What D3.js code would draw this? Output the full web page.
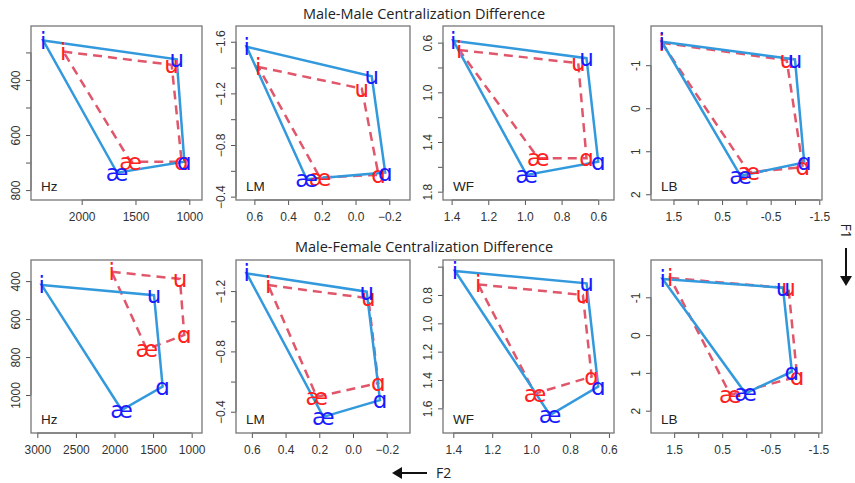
<!DOCTYPE html>
<html><head><meta charset="utf-8">
<script src="https://cdn.jsdelivr.net/npm/d3@7"></script>
<style>body{margin:0;background:#fff}svg{display:block}</style>
</head><body>
<svg id="c" width="855" height="483"></svg>
<script>
// ---- data ----
const vowels = ["i", "u", "ɑ", "æ"];
const unitNames = ["Hz", "LM", "WF", "LB"];
const rowTitles = ["Male-Male Centralization Difference", "Male-Female Centralization Difference"];

// [F2, F1] per vowel (i, u, ɑ, æ)
const mmHzBlue = [[2357, 257], [1117, 325], [1046, 697], [1671, 737]];
const mmHzRed  = [[2171, 297], [1164, 345], [1071, 697], [1546, 697]];
const mmLmBlue = [[0.646, -1.561], [-0.096, -1.333], [-0.176, -0.587], [0.29, -0.535]];
const mmLmRed  = [[0.577, -1.405], [-0.037, -1.237], [-0.136, -0.569], [0.211, -0.547]];
const mmWfBlue = [[1.391, 0.584], [0.664, 0.725], [0.6, 1.558], [0.991, 1.665]];
const mmWfRed  = [[1.359, 0.659], [0.709, 0.766], [0.664, 1.531], [0.927, 1.531]];
const mmLbBlue = [[1.74, -1.545], [-1.0, -1.133], [-1.19, 1.26], [0.12, 1.57]];
const mmLbRed  = [[1.74, -1.52], [-0.83, -1.117], [-1.16, 1.37], [-0.05, 1.49]];

const mfHzBlue = [[2943, 421], [1488, 474], [1376, 956], [1907, 1079]];
const mfHzRed  = [[2036, 351], [1152, 389], [1096, 684], [1583, 759]];
const mfLmBlue = [[0.631, -1.317], [-0.081, -1.196], [-0.16, -0.477], [0.176, -0.366]];
const mfLmRed  = [[0.503, -1.24], [-0.091, -1.152], [-0.15, -0.59], [0.215, -0.499]];
const mfWfBlue = [[1.391, 0.631], [0.715, 0.718], [0.655, 1.447], [0.903, 1.647]];
const mfWfRed  = [[1.272, 0.725], [0.734, 0.8], [0.689, 1.376], [0.98, 1.496]];
const mfLbBlue = [[1.74, -1.484], [-0.764, -1.254], [-0.95, 0.968], [0.016, 1.54]];
const mfLbRed  = [[1.58, -1.51], [-0.88, -1.24], [-1.06, 1.1], [0.33, 1.58]];

// axis domains [F2 left, F2 right], [F1 top, F1 bottom]
const mmDomains = [
  [[2471, 882], [204, 836]],
  [[0.709, -0.323], [-1.722, -0.374]],
  [[1.447, 0.514], [0.466, 1.867]],
  [[1.962, -1.556], [-1.911, 2.133]]
];
const mfDomains = [
  [[3082, 866], [289, 1200]],
  [[0.694, -0.338], [-1.406, -0.259]],
  [[1.453, 0.574], [0.553, 1.774]],
  [[1.982, -1.577], [-1.987, 2.59]]
];

// ticks: [all ticks, labelled ticks]
const mmXTicks = [
  [[2000, 1500, 1000], [2000, 1500, 1000]],
  [[0.6, 0.4, 0.2, 0, -0.2], [0.6, 0.4, 0.2, 0, -0.2]],
  [[1.4, 1.2, 1.0, 0.8, 0.6], [1.4, 1.2, 1.0, 0.8, 0.6]],
  [[1.5, 1, 0.5, 0, -0.5, -1, -1.5], [1.5, 0.5, -0.5, -1.5]]
];
const mmYTicks = [
  [[300, 400, 500, 600, 700, 800], [400, 600, 800]],
  [[-1.6, -1.4, -1.2, -1.0, -0.8, -0.6, -0.4], [-1.6, -1.2, -0.8, -0.4]],
  [[0.6, 0.8, 1.0, 1.2, 1.4, 1.6, 1.8], [0.6, 1.0, 1.4, 1.8]],
  [[-1, 0, 1, 2], [-1, 0, 1, 2]]
];
const mfXTicks = [
  [[3000, 2500, 2000, 1500, 1000], [3000, 2500, 2000, 1500, 1000]],
  [[0.6, 0.4, 0.2, 0, -0.2], [0.6, 0.4, 0.2, 0, -0.2]],
  [[1.4, 1.2, 1.0, 0.8, 0.6], [1.4, 1.2, 1.0, 0.8, 0.6]],
  [[1.5, 1, 0.5, 0, -0.5, -1, -1.5], [1.5, 0.5, -0.5, -1.5]]
];
const mfYTicks = [
  [[400, 600, 800, 1000], [400, 600, 800, 1000]],
  [[-1.2, -1.0, -0.8, -0.6, -0.4], [-1.2, -0.8, -0.4]],
  [[0.6, 0.8, 1.0, 1.2, 1.4, 1.6], [0.8, 1.0, 1.2, 1.4, 1.6]],
  [[-1, 0, 1, 2], [-1, 0, 1, 2]]
];

// ---- layout ----
const colX = [31, 236, 443, 651];
const colW = [171, 174, 171, 171];
const rowY = [26, 260];
const rowH = [174, 173];

const blueLine = "#3399dd", redLine = "#e0566a";
const blueText = "#1a1aff", redText = "#ff2020";
const tickFont = "Liberation Sans, Arial, sans-serif";

const svg = d3.select("#c");

const rows = [
  {blue: [mmHzBlue, mmLmBlue, mmWfBlue, mmLbBlue], red: [mmHzRed, mmLmRed, mmWfRed, mmLbRed],
   dom: mmDomains, xt: mmXTicks, yt: mmYTicks},
  {blue: [mfHzBlue, mfLmBlue, mfWfBlue, mfLbBlue], red: [mfHzRed, mfLmRed, mfWfRed, mfLbRed],
   dom: mfDomains, xt: mfXTicks, yt: mfYTicks}
];

function fmt(v, unit) {
  if (unit === "Hz") return String(v);
  if (unit === "LB") return String(v);
  return d3.format(".1f")(v);
}

rows.forEach((row, r) => {
  svg.append("text").attr("x", 424).attr("y", r === 0 ? 19 : 252)
    .attr("text-anchor", "middle").attr("font-family", "Open Sans, sans-serif")
    .attr("font-size", 14.5).attr("fill", "#222").text(rowTitles[r]);

  for (let c = 0; c < 4; c++) {
    const x0 = colX[c], y0 = rowY[r], w = colW[c], h = rowH[r];
    const g = svg.append("g").attr("transform", `translate(${x0},${y0})`);
    const xs = d3.scaleLinear().domain(row.dom[c][0]).range([0, w]);
    const ys = d3.scaleLinear().domain(row.dom[c][1]).range([0, h]);
    const unit = unitNames[c];

    // x axis
    const [xAll, xLab] = row.xt[c];
    const xa = d3.axisBottom(xs).tickValues(xAll).tickSize(5).tickSizeOuter(0)
      .tickFormat(v => xLab.some(l => Math.abs(l - v) < 1e-9) ? fmt(v, unit) : "");
    const gx = g.append("g").attr("transform", `translate(0,${h})`).call(xa);
    gx.select(".domain").remove();
    gx.append("line").attr("x1", xs(xAll[0])).attr("x2", xs(xAll[xAll.length - 1]))
      .attr("stroke", "#555");
    gx.selectAll(".tick line").attr("stroke", "#555");
    gx.selectAll(".tick text").attr("font-family", tickFont).attr("font-size", 12)
      .attr("fill", "#333").attr("dy", "1.05em");

    // y axis
    const [yAll, yLab] = row.yt[c];
    const ya = d3.axisLeft(ys).tickValues(yAll).tickSize(5).tickSizeOuter(0)
      .tickFormat(v => yLab.some(l => Math.abs(l - v) < 1e-9) ? fmt(v, unit) : "");
    const gy = g.append("g").call(ya);
    gy.select(".domain").remove();
    gy.append("line").attr("y1", ys(yAll[0])).attr("y2", ys(yAll[yAll.length - 1]))
      .attr("stroke", "#555");
    gy.selectAll(".tick line").attr("stroke", "#555");
    gy.selectAll(".tick text").attr("font-family", tickFont).attr("font-size", 12)
      .attr("fill", "#333").attr("x", 0).attr("dy", 0)
      .attr("text-anchor", "middle")
      .attr("transform", "translate(-11,0) rotate(-90)");

    // box
    g.append("rect").attr("width", w).attr("height", h).attr("fill", "none")
      .attr("stroke", "#777").attr("stroke-width", 1.3);

    const line = d3.line().x(d => xs(d[0])).y(d => ys(d[1])).curve(d3.curveLinearClosed);

    // red dashed
    g.append("path").datum(row.red[c]).attr("d", line).attr("fill", "none")
      .attr("stroke", redLine).attr("stroke-width", 2.5).attr("stroke-dasharray", "9,6");
    // blue solid
    g.append("path").datum(row.blue[c]).attr("d", line).attr("fill", "none")
      .attr("stroke", blueLine).attr("stroke-width", 2.5);

    // labels
    g.selectAll(".lr").data(row.red[c]).join("text")
      .attr("x", d => xs(d[0])).attr("y", d => ys(d[1]))
      .attr("dy", "0.35em").attr("text-anchor", "middle")
      .attr("font-family", "DejaVu Sans, sans-serif").attr("font-size", 23)
      .attr("fill", redText).text((d, i) => vowels[i]);
    g.selectAll(".lb").data(row.blue[c]).join("text")
      .attr("x", d => xs(d[0])).attr("y", d => ys(d[1]))
      .attr("dy", "0.35em").attr("text-anchor", "middle")
      .attr("font-family", "DejaVu Sans, sans-serif").attr("font-size", 23)
      .attr("fill", blueText).text((d, i) => vowels[i]);

    // unit label
    g.append("text").attr("x", 10).attr("y", h - 9)
      .attr("font-family", tickFont).attr("font-size", 13.5).attr("fill", "#222").text(unit);
  }
});

// F1 arrow
svg.append("text").attr("transform", "translate(846,231) rotate(90)")
  .attr("text-anchor", "middle").attr("dy", "0.35em")
  .attr("font-family", "Open Sans, sans-serif").attr("font-size", 14).attr("fill", "#222").text("F1");
svg.append("line").attr("x1", 846).attr("y1", 248).attr("x2", 846).attr("y2", 278)
  .attr("stroke", "#111").attr("stroke-width", 2);
svg.append("path").attr("d", "M840,276 L852,276 L846,286 Z").attr("fill", "#111");

// F2 arrow
svg.append("text").attr("x", 436).attr("y", 473).attr("dy", "0.35em")
  .attr("font-family", "Open Sans, sans-serif").attr("font-size", 14).attr("fill", "#222").text("F2");
svg.append("line").attr("x1", 427).attr("y1", 473).attr("x2", 400).attr("y2", 473)
  .attr("stroke", "#111").attr("stroke-width", 2);
svg.append("path").attr("d", "M402,467 L402,479 L392,473 Z").attr("fill", "#111");
</script>
</body></html>
